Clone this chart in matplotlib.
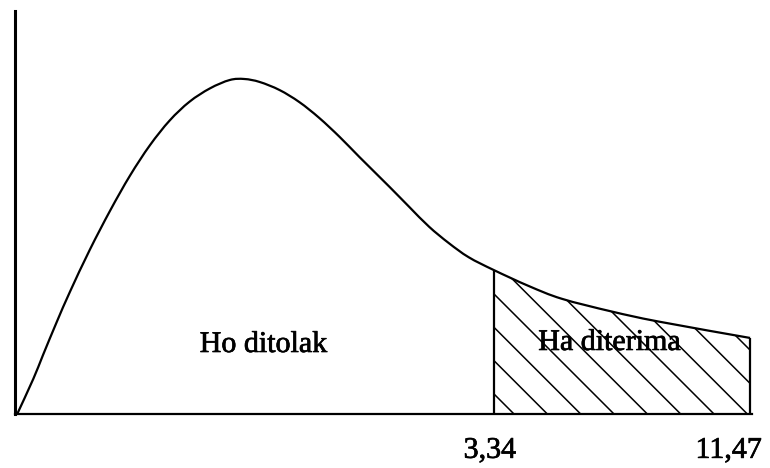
import numpy as np
import matplotlib as mpl
mpl.use('Agg')
from matplotlib import pyplot as plt
from matplotlib import patheffects
from matplotlib.path import Path
from matplotlib.patches import PathPatch

# schematic density curve (x: 0..100, y: peak = 100)
curve_x = [0, 2.2, 3.5, 5.4, 7.2, 9.9, 12.7, 15.4, 18.1, 20.8, 23.5, 26.3, 29.0,
           31.0, 33.1, 35.8, 38.5, 41.2, 44.0, 46.7, 50.8, 53.5, 56.2, 58.9, 61.6,
           65.0, 69.8, 74.3, 81.1, 87.5, 100]
curve_y = [0, 10.5, 17.5, 27.5, 36.5, 49.0, 60.8, 71.2, 80.2, 87.6, 93.2, 97.2, 99.7,
           100, 99.1, 96.7, 93.1, 88.4, 82.7, 76.7, 67.8, 61.8, 55.9, 51.0, 46.8,
           43.0, 38.2, 34.4, 30.6, 27.6, 22.7]

crit_x = 65.0      # position of the critical value
end_x = 100.0
tick_labels = ['3,34', '11,47']
region_labels = ['Ho ditolak', 'Ha diterima']

plt.rcParams['font.family'] = ['Liberation Serif', 'DejaVu Serif']
plt.rcParams['hatch.linewidth'] = 0.55


def smooth_path(xs, ys):
    # catmull-rom through the points, drawn as cubic bezier segments
    p = np.column_stack([xs, ys])
    p = np.vstack([p[0], p, p[-1]])
    verts = [p[1]]
    codes = [Path.MOVETO]
    for i in range(1, len(p) - 2):
        c1 = p[i] + (p[i + 1] - p[i - 1]) / 6
        c2 = p[i + 1] - (p[i + 2] - p[i]) / 6
        verts += [c1, c2, p[i + 1]]
        codes += [Path.CURVE4] * 3
    return verts, codes


fig = plt.figure(figsize=(3.85, 2.34), dpi=200)
ax = fig.add_axes([0.0195, 0.1154, 0.9575, 0.8611])

cx = np.array(curve_x)
cy = np.array(curve_y)

# rejection region (hatched)
mask = cx >= crit_x
rv, rc = smooth_path(cx[mask], cy[mask])
rv = rv + [(end_x, 0), (crit_x, 0), rv[0]]
rc = rc + [Path.LINETO, Path.LINETO, Path.CLOSEPOLY]
ax.add_patch(PathPatch(Path(rv, rc), facecolor='white', edgecolor='black',
                       hatch='\\\\', linewidth=0))

v, c = smooth_path(cx, cy)
ax.add_patch(PathPatch(Path(v, c), facecolor='none', edgecolor='black', lw=0.8))
ax.vlines([crit_x, end_x], 0, np.interp([crit_x, end_x], cx, cy), color='black', lw=0.8)

ax.set_xlim(-0.3, 100.3)
ax.set_ylim(0, 120.3)
for s in ['top', 'right']:
    ax.spines[s].set_visible(False)
ax.spines['left'].set_linewidth(1.1)
ax.spines['bottom'].set_linewidth(0.8)
ax.set_xticks([])
ax.set_yticks([])

# slightly heavier text, like the printed original
heavy = [patheffects.withStroke(linewidth=0.25, foreground='black')]
ax.text(33.6, 20.6, region_labels[0], ha='center', va='center', fontsize=10.8, path_effects=heavy)
ax.text(80.8, 21.2, region_labels[1], ha='center', va='center', fontsize=10.8, path_effects=heavy)
ax.text(64.5, -11.0, tick_labels[0], ha='center', va='center', fontsize=10.8, path_effects=heavy)
ax.text(97.1, -11.0, tick_labels[1], ha='center', va='center', fontsize=10.8, path_effects=heavy)

fig.savefig('out.png', dpi=200, facecolor='white')
